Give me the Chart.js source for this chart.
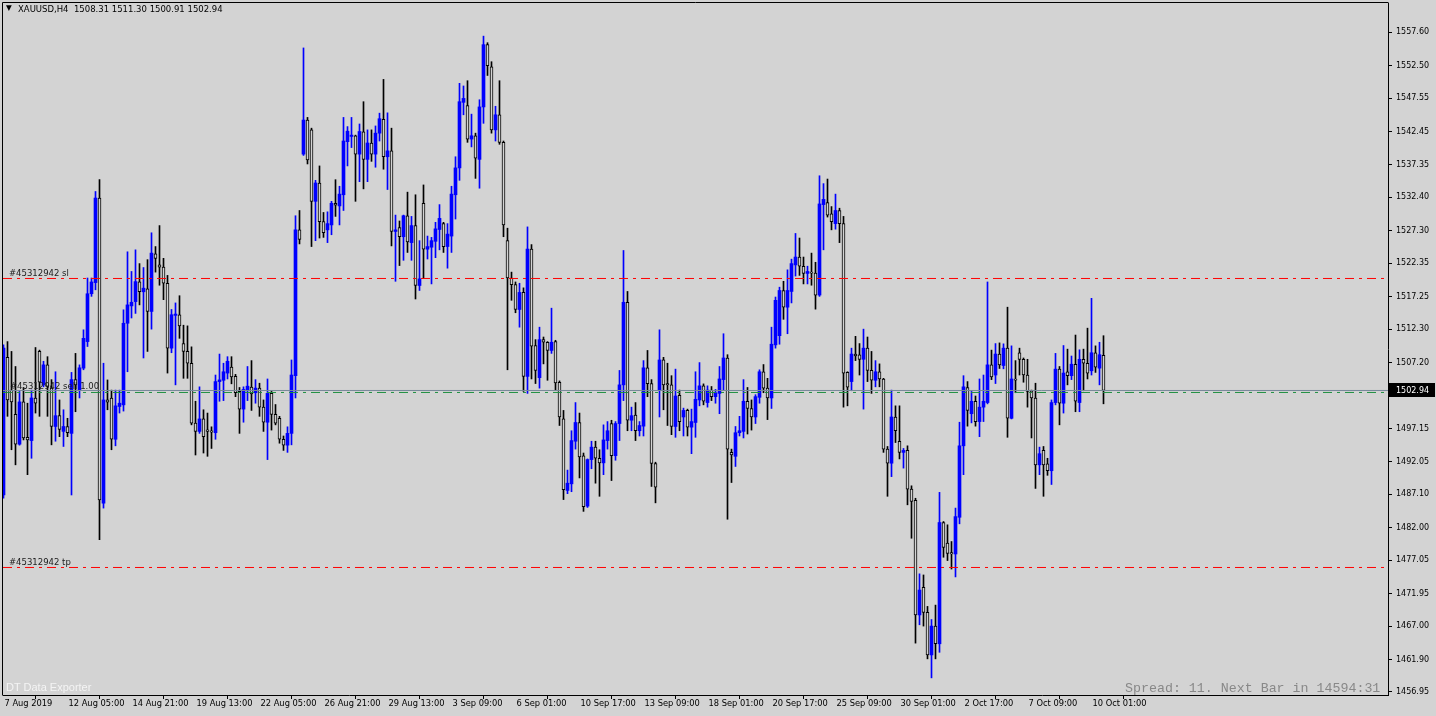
<!DOCTYPE html>
<html><head><meta charset="utf-8">
<script src="https://cdn.jsdelivr.net/npm/chart.js@4.4.1/dist/chart.umd.min.js"></script>
<style>
html,body{margin:0;padding:0;background:#D3D3D3;overflow:hidden}
#wrap{position:relative;width:1436px;height:716px}
#c{position:absolute;left:0;top:0}
.t{position:absolute;white-space:pre;line-height:12px}
#tri{left:6px;top:3px;font:7.5px "DejaVu Sans",sans-serif;color:#000}
#hdr{left:18px;top:4px;font:8.5px "DejaVu Sans",sans-serif;color:#000}
#dte{left:6px;top:681px;font:11px "Liberation Sans",Arial,sans-serif;color:#f4f4f4}
#spr{left:1125px;top:681px;font:13.3px "Liberation Mono",monospace;color:#888888}
</style></head>
<body><div id="wrap">
<canvas id="c" width="1436" height="716"></canvas>
<div class="t" id="tri">▼</div>
<div class="t" id="hdr">XAUUSD,H4  1508.31 1511.30 1500.91 1502.94</div>
<div class="t" id="dte">DT Data Exporter</div>
<div class="t" id="spr">Spread: 11. Next Bar in 14594:31</div>
</div>
<script>
const openP = [1487.0,1508.0,1503.0,1499.3,1494.75,1501.2,1495.8,1495.3,1501.8,1508.9,
1503.8,1506.85,1503.3,1497.45,1499.1,1496.7,1497.45,1496.4,1504.6,1503.0,
1506.35,1510.4,1517.7,1519.4,1532.3,1485.75,1501.5,1501.8,1495.5,1500.5,
1500.75,1513.2,1515.85,1516.5,1519.5,1518.0,1518.45,1515.0,1523.8,1522.1,
1521.75,1519.3,1509.4,1514.4,1514.5,1510.1,1508.9,1507.1,1497.96,1496.7,
1498.6,1496.94,1496.8,1496.5,1504.3,1504.5,1505.6,1506.5,1505.1,1502.8,
1500.1,1503.0,1503.45,1502.6,1503.3,1500.4,1498.1,1502.5,1499.3,1498.7,
1495.5,1494.6,1496.4,1505.2,1527.45,1539.0,1544.2,1542.7,1531.8,1534.6,
1528.7,1527.45,1528.2,1531.5,1531.1,1532.8,1540.9,1541.7,1541.8,1539.0,
1542.4,1538.2,1540.7,1539.0,1542.2,1544.3,1538.6,1539.5,1527.2,1527.8,
1526.4,1529.6,1525.5,1528.1,1518.96,1531.5,1524.5,1524.8,1525.7,1527.5,
1528.4,1524.9,1526.5,1532.8,1536.9,1546.9,1546.4,1541.3,1541.8,1538.2,
1546.2,1555.7,1552.3,1542.7,1545.0,1540.8,1525.8,1520.1,1519.1,1515.3,
1517.9,1505.1,1524.5,1509.8,1504.9,1510.7,1510.3,1509.05,1510.4,1504.2,
1498.6,1487.7,1488.7,1495.2,1498.06,1492.98,1485.3,1492.4,1494.3,1492.6,
1491.9,1495.3,1497.9,1493.0,1497.9,1503.8,1516.4,1498.4,1499.2,1496.8,
1497.5,1506.4,1504.0,1491.8,1502.95,1507.6,1504.0,1503.8,1497.45,1502.2,
1498.9,1499.9,1497.35,1498.06,1501.5,1503.65,1501.1,1503.0,1502.0,1502.5,
1504.6,1507.9,1493.5,1492.9,1496.5,1496.7,1501.3,1500.2,1498.9,1501.9,
1505.8,1503.3,1501.8,1509.9,1511.3,1518.2,1515.65,1518.05,1522.1,1523.3,
1521.9,1520.8,1520.95,1520.85,1517.5,1531.3,1531.6,1529.9,1528.4,1530.4,
1528.4,1505.7,1504.3,1508.5,1508.4,1507.7,1509.4,1506.0,1504.5,1505.8,
1504.7,1494.0,1491.85,1498.9,1495.2,1493.5,1493.8,1487.9,1486.2,1468.7,
1472.9,1469.1,1462.6,1467.0,1464.3,1482.8,1479.65,1478.2,1478.0,1483.6,
1494.5,1503.4,1499.4,1501.3,1498.2,1500.4,1501.1,1506.85,1505.3,1508.5,
1506.75,1509.4,1498.7,1504.7,1508.7,1507.7,1505.3,1502.9,1501.8,1491.6,
1493.8,1491.75,1490.7,1501.1,1506.2,1501.0,1505.8,1505.2,1506.95,1501.1,
1507.7,1507.1,1505.95,1508.7,1506.35,1508.31];
const highP = [1509.9,1510.4,1508.9,1506.6,1502.8,1503.4,1501.0,1503.0,1509.5,1509.1,
1507.4,1508.1,1504.6,1505.8,1501.5,1500.0,1498.7,1505.7,1508.6,1506.85,
1512.2,1520.1,1520.1,1533.3,1535.1,1507.1,1504.55,1503.0,1503.0,1503.0,
1515.25,1524.1,1521.1,1524.4,1522.3,1521.7,1522.9,1527.0,1524.9,1528.1,
1523.1,1520.5,1515.3,1516.3,1517.4,1512.9,1512.8,1509.6,1501.3,1503.5,
1500.0,1499.5,1497.4,1505.3,1508.5,1507.1,1508.1,1508.1,1505.4,1503.4,
1503.5,1506.6,1507.5,1504.6,1504.05,1501.5,1504.7,1502.8,1500.8,1499.0,
1496.0,1497.4,1507.6,1529.6,1530.4,1555.2,1544.6,1542.96,1535.0,1537.2,
1530.1,1530.2,1531.8,1535.1,1534.1,1544.6,1543.2,1544.6,1541.9,1543.6,
1547.0,1542.7,1542.7,1543.3,1545.25,1550.4,1545.3,1542.96,1529.7,1528.8,
1529.7,1533.2,1529.5,1532.8,1525.8,1534.3,1526.5,1526.3,1528.6,1531.3,
1528.6,1528.4,1534.1,1538.6,1549.8,1549.4,1550.2,1545.1,1542.2,1547.3,
1557.0,1556.0,1553.1,1546.3,1550.2,1541.0,1527.7,1521.0,1519.5,1519.3,
1518.6,1527.9,1525.2,1510.7,1512.6,1511.1,1510.4,1515.5,1510.6,1504.4,
1499.9,1490.8,1496.8,1501.1,1499.5,1493.4,1492.5,1495.2,1495.2,1493.9,
1497.7,1498.2,1498.4,1498.2,1506.0,1524.3,1518.05,1500.4,1501.1,1498.2,
1507.5,1509.05,1504.6,1492.0,1512.2,1508.0,1507.1,1505.2,1506.2,1503.0,
1500.25,1500.1,1500.1,1505.8,1507.2,1503.95,1503.65,1503.55,1503.1,1506.6,
1511.6,1508.4,1494.0,1497.45,1499.0,1504.6,1503.4,1501.5,1502.3,1506.1,
1506.9,1504.8,1512.6,1517.2,1518.7,1519.6,1521.35,1522.98,1526.9,1526.2,
1523.3,1521.9,1523.9,1522.5,1535.7,1534.5,1535.2,1531.0,1532.9,1530.75,
1529.5,1505.8,1509.4,1511.2,1510.1,1512.3,1511.1,1508.9,1507.5,1507.0,
1504.8,1494.4,1503.0,1500.6,1500.6,1494.1,1494.5,1488.4,1486.5,1474.97,
1474.8,1470.0,1468.0,1470.2,1487.4,1482.95,1482.45,1479.9,1485.0,1498.1,
1505.2,1504.3,1502.8,1502.1,1504.7,1505.3,1519.5,1509.1,1510.1,1510.2,
1510.06,1515.65,1509.75,1507.5,1509.4,1507.9,1507.7,1503.0,1504.05,1494.3,
1494.4,1492.6,1501.5,1508.6,1506.6,1509.8,1509.25,1508.2,1511.4,1509.15,
1509.25,1512.45,1517.0,1509.75,1510.3,1511.30];
const lowP = [1486.5,1499.0,1493.9,1491.6,1494.6,1495.4,1490.1,1492.6,1499.5,1499.0,
1503.5,1499.0,1494.65,1495.2,1495.9,1494.4,1495.9,1487.0,1499.7,1501.8,
1506.1,1509.65,1517.3,1518.3,1480.2,1485.0,1500.0,1493.9,1494.5,1499.5,
1499.8,1505.8,1514.0,1514.7,1516.0,1507.9,1508.9,1512.3,1521.0,1519.0,
1516.8,1505.6,1508.7,1503.8,1510.9,1504.8,1504.8,1497.7,1493.1,1496.4,
1493.4,1492.9,1494.1,1495.5,1501.3,1501.4,1504.7,1503.96,1502.0,1496.4,
1498.1,1501.4,1499.9,1501.0,1499.0,1496.7,1492.4,1496.9,1497.7,1494.9,
1493.8,1493.5,1494.65,1501.8,1525.3,1538.8,1537.5,1524.9,1525.8,1526.2,
1526.3,1525.5,1526.7,1529.5,1528.2,1530.4,1537.2,1540.0,1531.8,1534.8,
1533.7,1534.8,1537.9,1537.0,1541.0,1536.7,1533.6,1525.0,1519.6,1522.0,
1522.8,1524.0,1522.8,1516.9,1518.2,1520.0,1523.0,1519.2,1523.2,1524.4,
1524.0,1521.6,1524.0,1529.1,1535.0,1545.0,1540.8,1540.1,1535.3,1533.8,
1543.7,1551.0,1542.2,1541.0,1540.5,1526.4,1506.1,1516.7,1514.8,1512.6,
1502.8,1502.5,1504.7,1504.0,1503.3,1507.0,1504.5,1508.6,1503.0,1497.6,
1486.3,1487.2,1487.5,1494.0,1489.6,1484.5,1485.1,1491.0,1488.8,1486.8,
1490.1,1494.0,1489.2,1492.3,1495.3,1501.4,1496.8,1496.8,1495.3,1496.0,
1496.0,1502.0,1488.3,1485.8,1498.9,1500.0,1497.6,1496.2,1495.8,1496.8,
1496.0,1496.0,1493.3,1495.8,1500.6,1500.75,1500.4,1501.4,1501.0,1499.4,
1503.0,1483.3,1488.9,1491.35,1496.0,1495.7,1496.3,1496.9,1497.9,1501.0,
1502.6,1498.5,1500.2,1509.4,1510.0,1513.8,1511.6,1516.3,1520.4,1520.5,
1519.2,1519.2,1519.0,1515.35,1517.3,1524.4,1529.4,1527.45,1527.55,1525.5,
1500.4,1500.6,1502.9,1507.5,1505.3,1500.1,1504.3,1502.5,1503.5,1503.5,
1493.5,1486.8,1489.8,1495.0,1492.5,1491.1,1485.5,1480.4,1464.4,1467.2,
1467.0,1462.0,1459.1,1462.0,1463.0,1477.5,1477.0,1475.7,1474.5,1482.6,
1490.1,1497.5,1498.0,1497.5,1495.9,1498.2,1500.9,1504.6,1504.0,1506.3,
1506.25,1495.8,1498.6,1502.6,1505.3,1504.2,1500.4,1495.7,1488.0,1490.1,
1486.8,1490.0,1488.6,1500.75,1497.7,1499.5,1503.8,1504.6,1499.7,1499.7,
1502.9,1504.7,1505.3,1505.7,1503.8,1500.91];
const closeP = [1509.4,1501.5,1501.2,1494.75,1501.2,1495.7,1495.4,1501.8,1501.0,1504.2,
1506.85,1503.55,1497.45,1499.1,1497.0,1497.45,1496.5,1504.6,1503.8,1506.4,
1510.9,1517.7,1519.5,1532.3,1486.25,1501.5,1501.15,1495.5,1500.6,1501.0,
1513.2,1516.0,1516.4,1519.55,1518.0,1518.55,1515.0,1523.9,1523.1,1521.75,
1519.3,1509.4,1514.5,1514.6,1512.8,1508.9,1507.1,1497.96,1496.7,1498.6,
1495.9,1496.7,1496.6,1504.3,1504.56,1505.8,1507.4,1505.0,1502.6,1500.1,
1503.1,1503.6,1502.4,1503.3,1500.4,1498.1,1502.5,1499.3,1497.96,1495.5,
1494.6,1496.4,1505.3,1527.45,1526.0,1544.2,1538.1,1531.8,1534.6,1528.7,
1527.0,1528.4,1531.5,1531.2,1532.9,1541.0,1542.5,1541.9,1539.0,1542.45,
1538.2,1540.7,1539.0,1542.2,1544.4,1538.6,1539.5,1527.2,1527.45,1526.4,
1529.6,1525.6,1528.1,1518.96,1519.97,1524.5,1524.9,1525.8,1527.6,1529.2,
1524.9,1526.8,1532.9,1536.9,1547.0,1547.5,1541.3,1541.8,1538.4,1546.2,
1555.7,1552.5,1542.7,1545.0,1540.8,1528.2,1520.1,1519.1,1515.3,1517.9,
1505.1,1524.5,1509.7,1506.0,1510.7,1510.3,1509.05,1510.3,1504.1,1498.9,
1487.8,1488.8,1495.3,1498.06,1492.8,1485.2,1492.4,1494.3,1492.6,1491.9,
1495.4,1496.8,1493.0,1497.9,1503.8,1516.4,1498.4,1499.1,1496.8,1497.6,
1506.4,1504.0,1491.8,1488.2,1507.6,1503.8,1503.8,1497.45,1502.1,1498.2,
1499.9,1497.35,1498.2,1501.6,1503.65,1501.3,1503.0,1502.0,1502.6,1504.7,
1507.9,1494.0,1493.1,1496.5,1496.8,1501.3,1500.2,1498.9,1502.0,1505.8,
1503.3,1501.8,1510.0,1516.7,1518.2,1515.65,1518.2,1522.3,1523.3,1521.9,
1520.8,1521.1,1520.85,1517.5,1531.4,1532.1,1529.7,1528.7,1530.4,1528.4,
1505.6,1503.45,1508.5,1508.2,1507.7,1509.4,1506.0,1504.5,1505.8,1504.7,
1494.0,1491.85,1498.9,1496.8,1493.5,1493.8,1487.9,1486.0,1468.7,1472.5,
1469.1,1462.6,1467.0,1464.3,1482.8,1479.0,1478.1,1478.0,1483.7,1494.5,
1503.5,1499.9,1501.3,1498.2,1500.4,1501.3,1506.85,1505.0,1508.5,1506.85,
1509.4,1498.7,1504.7,1504.5,1507.7,1505.3,1502.8,1501.8,1491.6,1493.3,
1491.6,1490.7,1501.1,1506.2,1501.0,1505.6,1505.2,1506.95,1501.3,1507.7,
1507.1,1505.6,1508.7,1506.5,1508.4,1502.94];

const xTickIndex = [0,16,32,48,64,80,96,112,128,144,160,176,192,208,224,240,256,272];
const xTickLabels = ['7 Aug 2019','12 Aug 05:00','14 Aug 21:00','19 Aug 13:00','22 Aug 05:00','26 Aug 21:00','29 Aug 13:00','3 Sep 09:00','6 Sep 01:00','10 Sep 17:00','13 Sep 09:00','18 Sep 01:00','20 Sep 17:00','25 Sep 09:00','30 Sep 01:00','2 Oct 17:00','7 Oct 09:00','10 Oct 01:00'];
const yTickValues = [1557.60,1552.50,1547.55,1542.45,1537.35,1532.40,1527.30,1522.35,1517.25,1512.30,1507.20,1502.25,1497.15,1492.05,1487.10,1482.00,1477.05,1471.95,1467.00,1461.90,1456.95];

const orderId = '#45312942';
const slLevel = 1520.03;
const tpLevel = 1475.94;
const entryLevel = 1502.64;
const entryLots = 1.00;
const bidLevel = 1502.94;

const BG = '#D3D3D3', BULL = '#0000FF', BEAR = '#000000';
const X_MIN = -0.125, X_MAX = 346.125;
const Y_MIN = 1456.486, Y_MAX = 1562.056;

const idx = openP.map((_, i) => i);
const isBull = idx.map(i => closeP[i] > openP[i]);

const wickData = idx.map(i => ({x: i, y: [lowP[i], highP[i]]}));
const bodyData = idx.map(i => ({x: i, y: [openP[i], closeP[i]]}));
const hline = v => [{x: X_MIN, y: v}, {x: X_MAX, y: v}];
const DASHDOT = [9, 5, 3, 5];

const overlay = {
  id: 'overlay',
  beforeDraw(c) {
    const ctx = c.ctx; ctx.save(); ctx.fillStyle = BG; ctx.fillRect(0, 0, c.width, c.height); ctx.restore();
  },
  afterDatasetsDraw(c) {
    const ctx = c.ctx, y = c.scales.y;
    ctx.save();
    ctx.font = '8.5px "DejaVu Sans", sans-serif';
    ctx.fillStyle = '#202020';
    ctx.textBaseline = 'alphabetic';
    ctx.fillText(orderId + ' sl', 9, Math.round(y.getPixelForValue(slLevel)) - 2);
    ctx.fillText(orderId + ' sell ' + entryLots.toFixed(2), 10, Math.round(y.getPixelForValue(bidLevel)) - 1);
    ctx.fillText(orderId + ' tp', 9, Math.round(y.getPixelForValue(tpLevel)) - 2);
    ctx.restore();
  },
  afterDraw(c) {
    const ctx = c.ctx, a = c.chartArea, y = c.scales.y;
    ctx.save();
    ctx.strokeStyle = '#000'; ctx.lineWidth = 1;
    ctx.beginPath();
    ctx.moveTo(2.5, a.bottom + 0.5); ctx.lineTo(2.5, 2.5); ctx.lineTo(a.right + 0.5, 2.5);
    ctx.stroke();
    const py = Math.round(y.getPixelForValue(bidLevel));
    ctx.fillStyle = '#000';
    ctx.fillRect(a.right + 1, py - 7, 46, 14);
    ctx.fillStyle = '#fff';
    ctx.font = '8px "DejaVu Sans", sans-serif';
    ctx.textBaseline = 'middle';
    ctx.fillText(bidLevel.toFixed(2), a.right + 8, py + 0.5);
    ctx.restore();
  }
};

new Chart(document.getElementById('c'), {
  type: 'bar',
  data: {
    datasets: [
      {label: 'wick', data: wickData, order: 2, grouped: false, barThickness: 1,
       backgroundColor: idx.map(i => isBull[i] ? BULL : BEAR), borderWidth: 0},
      {label: 'body', data: bodyData, order: 1, grouped: false, barThickness: 3, minBarLength: 1,
       backgroundColor: idx.map(i => isBull[i] ? BULL : BG),
       borderColor: idx.map(i => isBull[i] ? BULL : BEAR),
       borderWidth: idx.map(i => isBull[i] ? 0 : 1), borderSkipped: false},
      {type: 'line', label: 'sl', data: hline(slLevel), order: 0, borderColor: '#FF0000', borderWidth: 1, borderDash: DASHDOT, pointRadius: 0},
      {type: 'line', label: 'tp', data: hline(tpLevel), order: 0, borderColor: '#FF0000', borderWidth: 1, borderDash: DASHDOT, pointRadius: 0},
      {type: 'line', label: 'bid', data: hline(bidLevel), order: -1, borderColor: '#778899', borderWidth: 1, pointRadius: 0},
      {type: 'line', label: 'entry', data: hline(entryLevel), order: -1, borderColor: '#1E9040', borderWidth: 1, borderDash: DASHDOT, pointRadius: 0}
    ]
  },
  options: {
    responsive: false, animation: false, devicePixelRatio: 1, events: [],
    layout: {padding: {left: 3, top: 3, right: 0, bottom: 0}},
    plugins: {legend: {display: false}, tooltip: {enabled: false}},
    scales: {
      x: {
        type: 'linear', min: X_MIN, max: X_MAX, offset: false,
        grid: {drawOnChartArea: false, drawTicks: true, tickLength: 4, color: '#000'},
        border: {display: true, color: '#000'},
        ticks: {autoSkip: false, maxRotation: 0, align: 'start', labelOffset: 1, padding: 0,
                color: '#000', font: {family: 'DejaVu Sans', size: 8.3},
                callback: (v, i) => xTickLabels[i]},
        afterBuildTicks: s => { s.ticks = xTickIndex.map(v => ({value: v})); },
        afterFit: s => { s.height = 21; s.paddingLeft = 0; s.paddingRight = 0; }
      },
      y: {
        position: 'right', min: Y_MIN, max: Y_MAX,
        grid: {drawOnChartArea: false, drawTicks: true, tickLength: 4, color: '#000'},
        border: {display: true, color: '#000'},
        ticks: {autoSkip: false, padding: 4, color: '#000', font: {family: 'DejaVu Sans', size: 8},
                callback: v => Number(v).toFixed(2)},
        afterBuildTicks: s => { s.ticks = yTickValues.map(v => ({value: v})); },
        afterFit: s => { s.width = 48; s.paddingTop = 0; s.paddingBottom = 0; }
      }
    }
  },
  plugins: [overlay]
});
</script>
</body></html>
